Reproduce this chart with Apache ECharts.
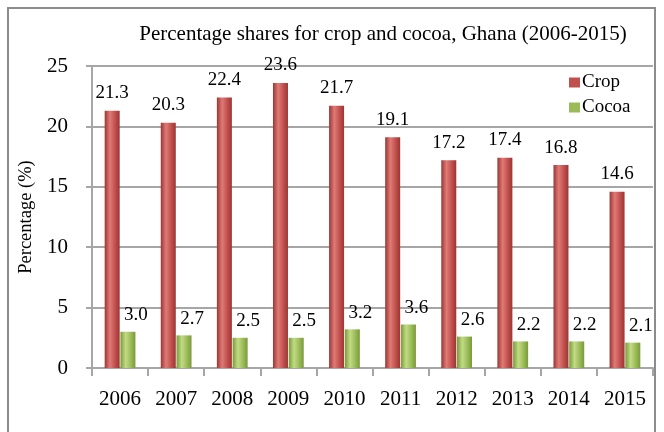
<!DOCTYPE html>
<html>
<head>
<meta charset="utf-8">
<script src="https://cdn.jsdelivr.net/npm/echarts@6/dist/echarts.min.js"></script>
<style>
  html, body { margin: 0; padding: 0; background: #fff; overflow: hidden; }
  #frame { position: absolute; left: 7px; top: 7px; width: 649px; height: 440px; border: 2px solid #8c8c8c; box-sizing: border-box; }
  #chart { position: absolute; left: 0; top: 0; width: 664px; height: 432px; }
</style>
</head>
<body>
<div id="frame"></div>
<div id="chart"></div>
<script>
const years = ['2006', '2007', '2008', '2009', '2010', '2011', '2012', '2013', '2014', '2015'];
const crop = [21.3, 20.3, 22.4, 23.6, 21.7, 19.1, 17.2, 17.4, 16.8, 14.6];
const cocoa = [3.0, 2.7, 2.5, 2.5, 3.2, 3.6, 2.6, 2.2, 2.2, 2.1];
const yTicks = [0, 5, 10, 15, 20, 25];

const serif = '"Liberation Serif", "Times New Roman", serif';

// horizontal shading so each bar reads as a cylinder
function cylinder(dark, mid, light) {
  return new echarts.graphic.LinearGradient(0, 0, 1, 0, [
    { offset: 0, color: dark },
    { offset: 0.35, color: light },
    { offset: 0.7, color: mid },
    { offset: 1, color: dark }
  ]);
}

const chart = echarts.init(document.getElementById('chart'), null, { renderer: 'canvas' });
chart.setOption({
  animation: false,
  title: {
    text: 'Percentage shares for crop and cocoa, Ghana (2006-2015)',
    left: 378, top: 19, textAlign: 'center',
    textStyle: { fontFamily: serif, fontSize: 21, fontWeight: 'normal', color: '#000' }
  },
  legend: {
    orient: 'vertical', left: 564, top: 68,
    itemWidth: 11, itemHeight: 10, itemGap: 6,
    textStyle: { fontFamily: serif, fontSize: 19, color: '#000', padding: [0, 0, 0, -3] },
    data: [
      { name: 'Crop', icon: 'rect', itemStyle: { color: '#c0504d' } },
      { name: 'Cocoa', icon: 'rect', itemStyle: { color: '#9bbb59' } }
    ]
  },
  grid: { left: 92, right: 11, top: 66, bottom: 64 },
  xAxis: {
    type: 'category', data: years,
    axisLine: { lineStyle: { color: '#a6a6a6', width: 2 } },
    axisTick: { show: true, length: 8, lineStyle: { color: '#a6a6a6', width: 2 } },
    axisLabel: { fontFamily: serif, fontSize: 21, color: '#000', margin: 21 }
  },
  yAxis: {
    type: 'value', min: yTicks[0], max: yTicks[yTicks.length - 1], interval: 5,
    name: 'Percentage (%)', nameLocation: 'middle', nameGap: 56,
    nameTextStyle: { fontFamily: serif, fontSize: 18.5, color: '#000' },
    axisLine: { show: true, lineStyle: { color: '#a6a6a6', width: 2 } },
    axisTick: { show: true, length: 6, lineStyle: { color: '#a6a6a6', width: 2 } },
    axisLabel: { fontFamily: serif, fontSize: 21, color: '#000', margin: 24 },
    splitLine: { lineStyle: { color: '#a6a6a6', width: 2 } }
  },
  series: [
    {
      name: 'Crop', type: 'bar', data: crop, barWidth: 15, barGap: '5%',
      itemStyle: { color: cylinder('#9b3633', '#c0504d', '#e07a76') },
      label: {
        show: true, position: 'top', distance: 8,
        formatter: p => p.value.toFixed(1),
        fontFamily: serif, fontSize: 19, color: '#000'
      }
    },
    {
      name: 'Cocoa', type: 'bar', data: cocoa, barWidth: 15,
      itemStyle: { color: cylinder('#7a9a3a', '#9bbb59', '#c1dc84') },
      label: {
        show: true, position: 'top', distance: 5, offset: [8, -2],
        formatter: p => p.value.toFixed(1),
        fontFamily: serif, fontSize: 19, color: '#000'
      }
    }
  ]
});
</script>
</body>
</html>
